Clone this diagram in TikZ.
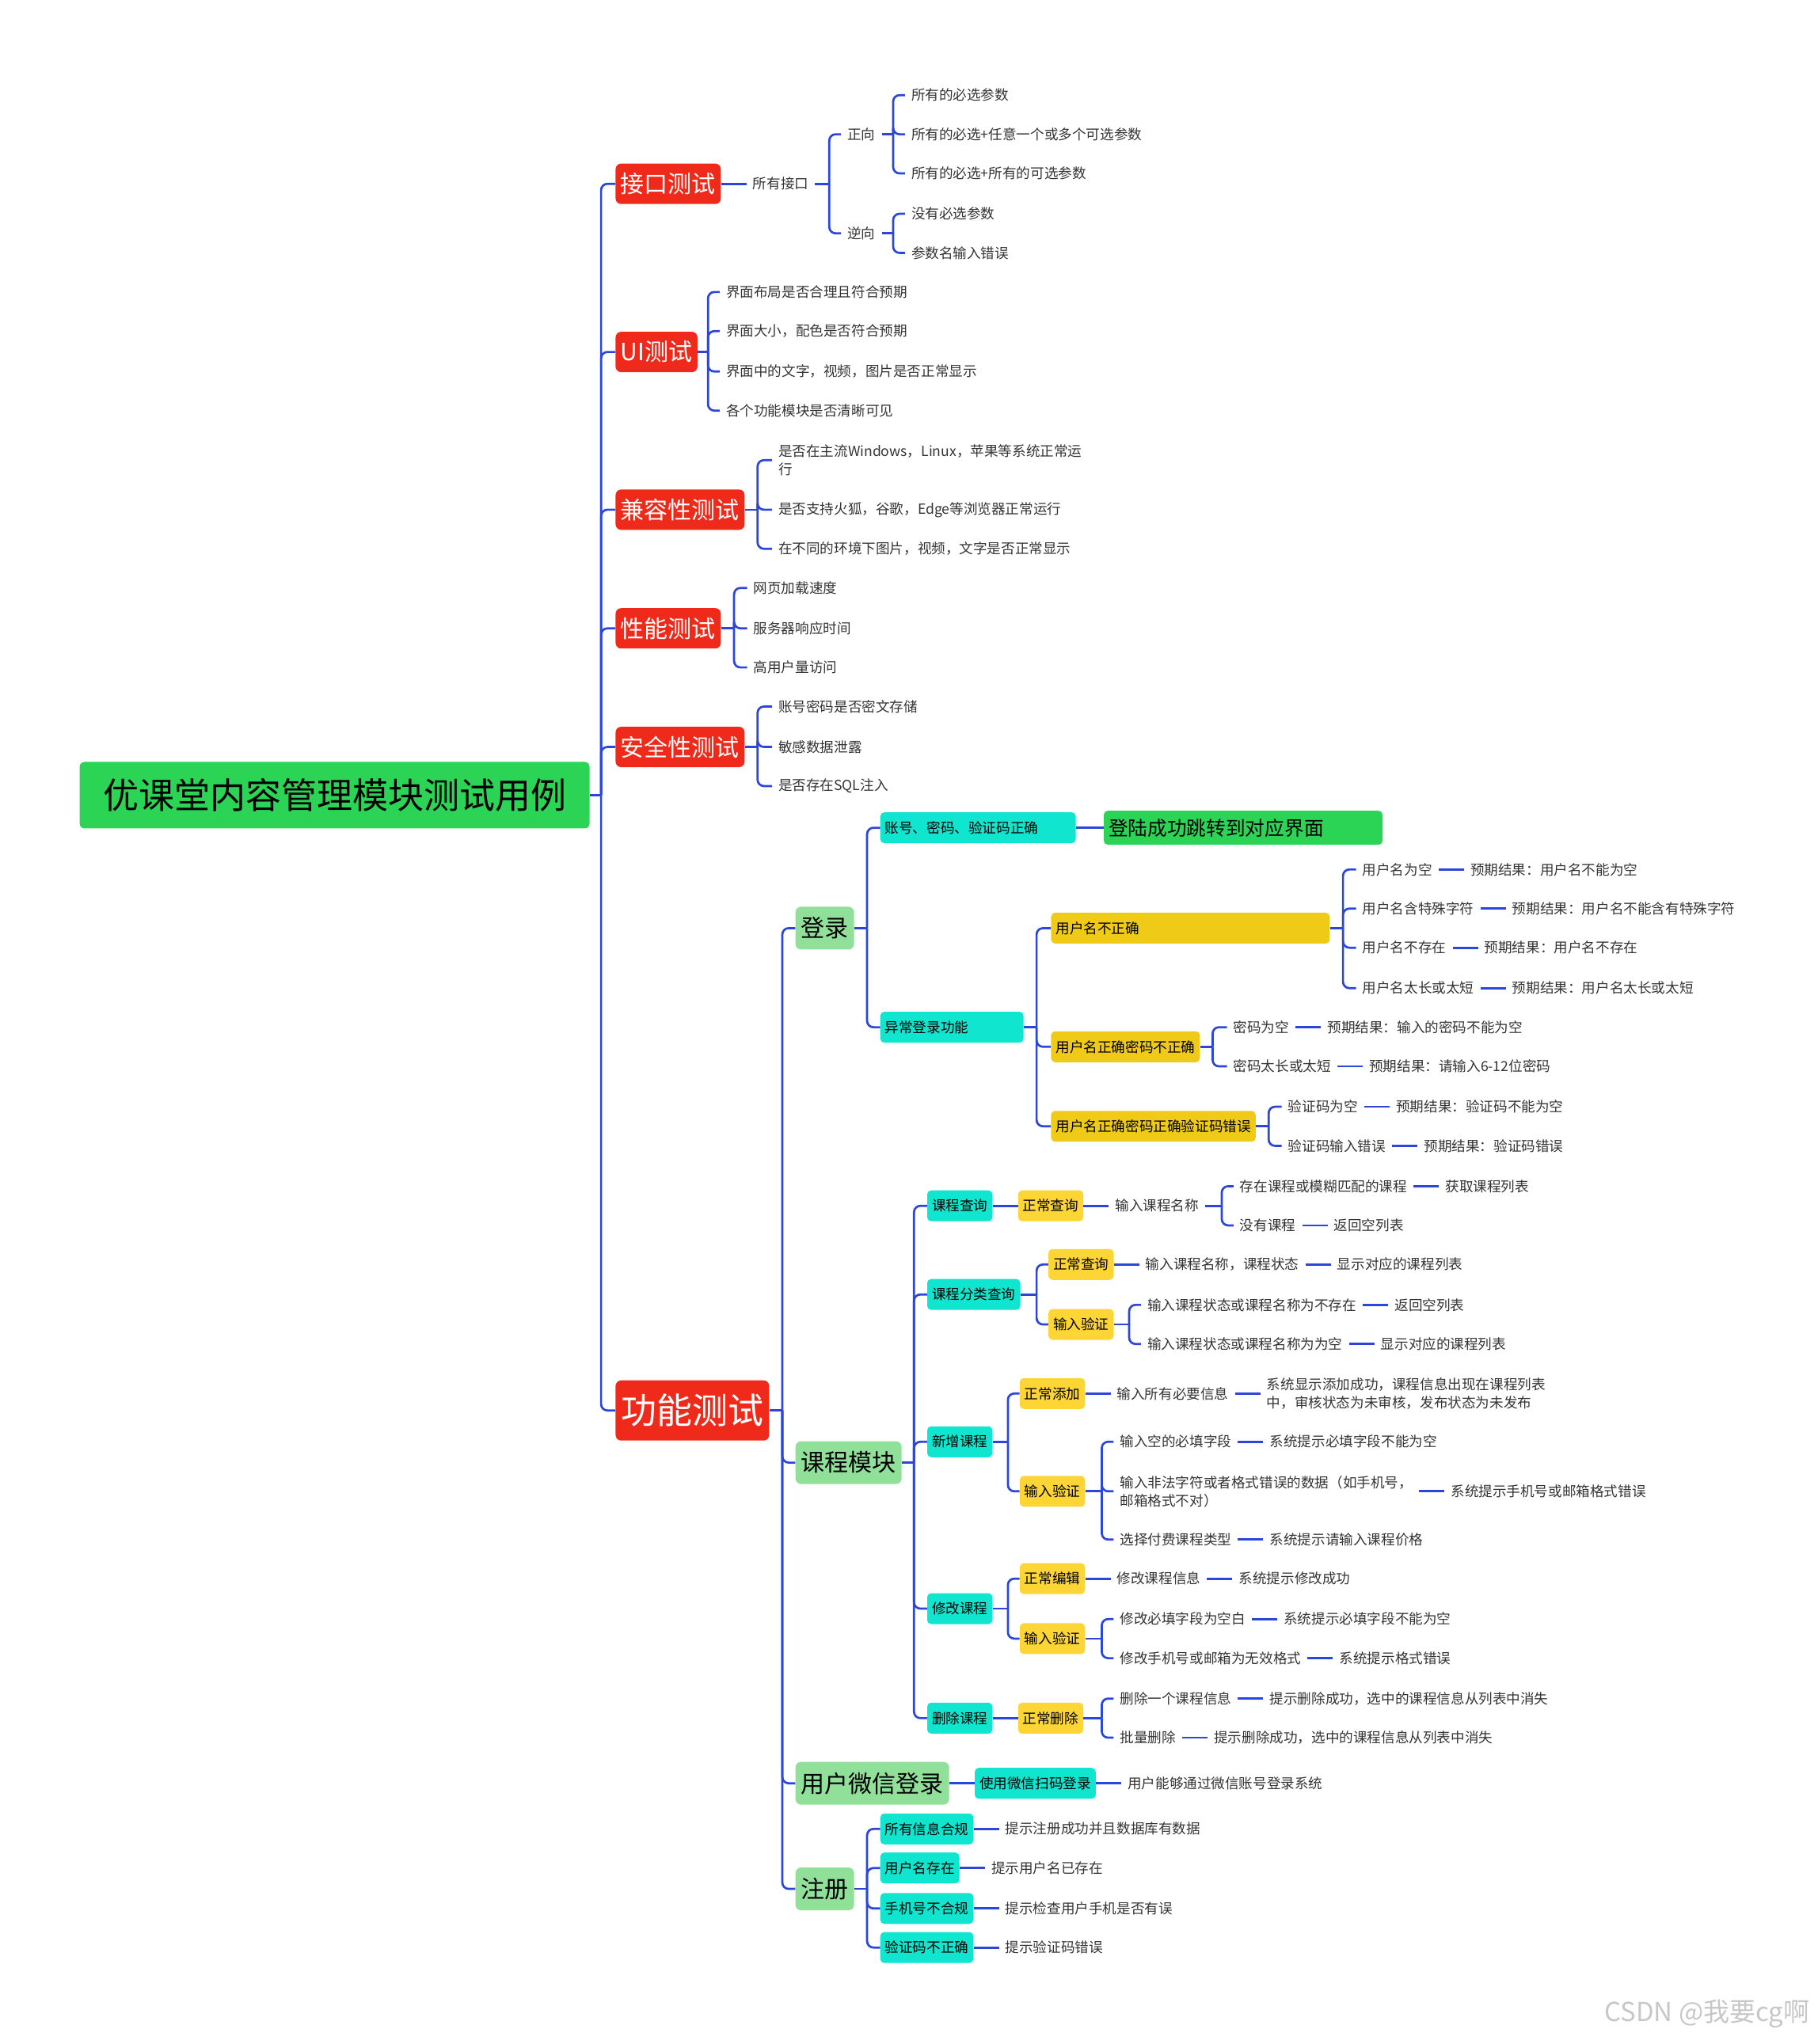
\documentclass[tikz,border=0pt]{standalone}
\usepackage{fontspec}
\setmainfont{Noto Sans CJK SC}
\usetikzlibrary{positioning}
\definecolor{mmred}{HTML}{F02A1A}
\definecolor{mmgreen}{HTML}{2CD455}
\definecolor{mmlgreen}{HTML}{90E09A}
\definecolor{mmcyan}{HTML}{10E6CF}
\definecolor{mmylwa}{HTML}{EFCB18}
\definecolor{mmylwb}{HTML}{FDD535}
\definecolor{mmblue}{HTML}{2B46DA}
\definecolor{mmtext}{HTML}{333333}

% bracket from a parent to its children
\newcommand\fork[3]{%
  \draw[link] (#1.east) -- (#1.east -| #2,0) coordinate (#1j);
  \foreach \kid in {#3}{\draw[link] (#1j) |- (\kid.west);}%
}

\begin{document}
\begin{tikzpicture}[x=1.647pt, y=-1.647pt,
  link/.style={draw=mmblue, line width=2.7pt, rounded corners=8pt},
  leaf/.style={anchor=west, inner xsep=8pt, inner ysep=2pt, align=left,
    text=mmtext, font=\fontsize{17.6}{23}\selectfont},
  box/.style={anchor=west, rounded corners=5pt, minimum height=39pt,
    inner xsep=6pt, inner ysep=2pt, align=left, text=black,
    font=\fontsize{17.6}{21}\selectfont},
  cyanbox/.style={box, fill=mmcyan},
  ylwa/.style={box, fill=mmylwa},
  ylwb/.style={box, fill=mmylwb},
  redbox/.style={anchor=west, rounded corners=7pt, fill=mmred, text=white,
    minimum height=51pt, inner xsep=6.5pt, inner ysep=2pt,
    font=\fontsize{30}{34}\selectfont},
  grnbox/.style={anchor=west, rounded corners=7pt, fill=mmlgreen, text=black,
    minimum height=54pt, inner xsep=7pt, inner ysep=2pt,
    font=\fontsize{30}{34}\selectfont},
]
\useasboundingbox (0,0) rectangle (1394,1568);

% Root and first level
\node[anchor=west, fill=mmgreen, rounded corners=6pt, minimum width=644pt,
  minimum height=84pt, font=\fontsize{45}{50}\selectfont] (root) at (61,610)
  {优课堂内容管理模块测试用例};
\node[redbox] (jk) at (472,141) {接口测试};
\node[redbox] (ui) at (472,270) {UI测试};
\node[redbox] (jr) at (472,391) {兼容性测试};
\node[redbox] (xn) at (472,482) {性能测试};
\node[redbox] (aq) at (472,573) {安全性测试};
\node[redbox, minimum height=76pt, inner xsep=7pt,
  font=\fontsize{45}{50}\selectfont] (gn) at (472,1082) {功能测试};
\fork{root}{461}{jk,ui,jr,xn,aq,gn}

% Interface tests
\node[leaf, right=32pt of jk] (syjk) {所有接口};
\draw[link] (jk) -- (syjk);
\node[leaf] (zx) at (645,103) {正向};
\node[leaf] (nx) at (645,179) {逆向};
\fork{syjk}{636}{zx,nx}
\foreach \n/\y/\t in {zx1/73/所有的必选参数, zx2/103/所有的必选+任意一个或多个可选参数,
  zx3/133/所有的必选+所有的可选参数, nx1/164/没有必选参数, nx2/194/参数名输入错误}
  \node[leaf] (\n) at (694,\y) {\t};
\fork{zx}{685}{zx1,zx2,zx3}
\fork{nx}{685}{nx1,nx2}

% UI tests
\foreach \n/\y/\t in {ui1/224/界面布局是否合理且符合预期, ui2/254/界面大小，配色是否符合预期,
  ui3/285/界面中的文字，视频，图片是否正常显示, ui4/315/各个功能模块是否清晰可见}
  \node[leaf] (\n) at (552,\y) {\t};
\fork{ui}{543}{ui1,ui2,ui3,ui4}

% Compatibility tests
\foreach \n/\y/\t in {jr1/353/是否在主流Windows，Linux，苹果等系统正常运\\行,
  jr2/391/是否支持火狐，谷歌，Edge等浏览器正常运行,
  jr3/421/在不同的环境下图片，视频，文字是否正常显示}
  \node[leaf] (\n) at (592,\y) {\t};
\fork{jr}{581}{jr1,jr2,jr3}

% Performance tests
\foreach \n/\y/\t in {xn1/451/网页加载速度, xn2/482/服务器响应时间, xn3/512/高用户量访问}
  \node[leaf] (\n) at (573,\y) {\t};
\fork{xn}{563}{xn1,xn2,xn3}

% Security tests
\foreach \n/\y/\t in {aq1/542/账号密码是否密文存储, aq2/573/敏感数据泄露, aq3/603/是否存在SQL注入}
  \node[leaf] (\n) at (592,\y) {\t};
\fork{aq}{581}{aq1,aq2,aq3}

% Functional tests
\node[grnbox] (dl) at (610,712) {登录};
\node[grnbox] (kc) at (610,1122) {课程模块};
\node[grnbox] (wx) at (610,1368) {用户微信登录};
\node[grnbox] (zc) at (610,1449) {注册};
\fork{gn}{600}{dl,kc,wx,zc}

% Login
\node[cyanbox, text width=235pt] (zq) at (675,635) {账号、密码、验证码正确};
\node[cyanbox, text width=169pt] (yc) at (675,788) {异常登录功能};
\fork{dl}{665}{zq,yc}
\node[box, fill=mmgreen, text width=340pt, minimum height=43pt,
  font=\fontsize{24.7}{28}\selectfont, right=35pt of zq] (cg) {登陆成功跳转到对应界面};
\draw[link] (zq) -- (cg);
\node[ylwa, text width=340pt] (e1) at (806,712) {用户名不正确};
\node[ylwa] (e2) at (806,803) {用户名正确密码不正确};
\node[ylwa] (e3) at (806,864) {用户名正确密码正确验证码错误};
\fork{yc}{795}{e1,e2,e3}
\foreach \n/\x/\y/\a/\b in {u1/1040/667/用户名为空/预期结果：用户名不能为空,
  u2/1040/697/用户名含特殊字符/预期结果：用户名不能含有特殊字符,
  u3/1040/727/用户名不存在/预期结果：用户名不存在,
  u4/1040/758/用户名太长或太短/预期结果：用户名太长或太短,
  p1/941/788/密码为空/预期结果：输入的密码不能为空,
  p2/941/818/密码太长或太短/预期结果：请输入6-12位密码,
  v1/983/849/验证码为空/预期结果：验证码不能为空,
  v2/983/879/验证码输入错误/预期结果：验证码错误}{
  \node[leaf] (\n) at (\x,\y) {\a};
  \node[leaf, right=32pt of \n] (\n-r) {\b};
  \draw[link] (\n) -- (\n-r);
}
\fork{e1}{1030}{u1,u2,u3,u4}
\fork{e2}{930}{p1,p2}
\fork{e3}{973}{v1,v2}

% Course module
\foreach \n/\y/\t in {q1/925/课程查询, q2/993/课程分类查询, q3/1106/新增课程,
  q4/1234/修改课程, q5/1318/删除课程}
  \node[cyanbox] (\n) at (711,\y) {\t};
\fork{kc}{701}{q1,q2,q3,q4,q5}

\node[ylwb, right=32pt of q1] (q1a) {正常查询};
\node[leaf, right=32pt of q1a] (q1b) {输入课程名称};
\draw[link] (q1) -- (q1a);
\draw[link] (q1a) -- (q1b);

\node[ylwb] (q2a) at (804,970) {正常查询};
\node[ylwb] (q2b) at (804,1016) {输入验证};
\fork{q2}{795}{q2a,q2b}
\node[leaf, right=32pt of q2a] (t0) {输入课程名称，课程状态};
\node[leaf, right=32pt of t0] (t0-r) {显示对应的课程列表};
\draw[link] (q2a) -- (t0);
\draw[link] (t0) -- (t0-r);

\node[ylwb] (q3a) at (782,1069) {正常添加};
\node[ylwb] (q3b) at (782,1144) {输入验证};
\fork{q3}{773}{q3a,q3b}
\node[leaf, right=32pt of q3a] (a1) {输入所有必要信息};
\node[leaf, right=32pt of a1] (a1-r) {系统显示添加成功，课程信息出现在课程列表\\中，审核状态为未审核，发布状态为未发布};
\draw[link] (q3a) -- (a1);
\draw[link] (a1) -- (a1-r);

\node[ylwb] (q4a) at (782,1211) {正常编辑};
\node[ylwb] (q4b) at (782,1257) {输入验证};
\fork{q4}{773}{q4a,q4b}
\node[leaf, right=32pt of q4a] (c0) {修改课程信息};
\node[leaf, right=32pt of c0] (c0-r) {系统提示修改成功};
\draw[link] (q4a) -- (c0);
\draw[link] (c0) -- (c0-r);

\node[ylwb, right=32pt of q5] (q5a) {正常删除};
\draw[link] (q5) -- (q5a);

\foreach \n/\x/\y/\a/\b in {s1/946/910/存在课程或模糊匹配的课程/获取课程列表,
  s2/946/940/没有课程/返回空列表,
  t1/875/1001/输入课程状态或课程名称为不存在/返回空列表,
  t2/875/1031/输入课程状态或课程名称为为空/显示对应的课程列表,
  b1/854/1106/输入空的必填字段/系统提示必填字段不能为空,
  b2/854/1144/输入非法字符或者格式错误的数据（如手机号，\\邮箱格式不对）/系统提示手机号或邮箱格式错误,
  b3/854/1181/选择付费课程类型/系统提示请输入课程价格,
  c1/854/1242/修改必填字段为空白/系统提示必填字段不能为空,
  c2/854/1272/修改手机号或邮箱为无效格式/系统提示格式错误,
  d1/854/1303/删除一个课程信息/提示删除成功，选中的课程信息从列表中消失,
  d2/854/1333/批量删除/提示删除成功，选中的课程信息从列表中消失}{
  \node[leaf] (\n) at (\x,\y) {\a};
  \node[leaf, right=32pt of \n] (\n-r) {\b};
  \draw[link] (\n) -- (\n-r);
}
\fork{q1b}{937}{s1,s2}
\fork{q2b}{866}{t1,t2}
\fork{q3b}{845}{b1,b2,b3}
\fork{q4b}{845}{c1,c2}
\fork{q5a}{845}{d1,d2}

% WeChat login
\node[cyanbox, right=32pt of wx] (wxa) {使用微信扫码登录};
\node[leaf, right=32pt of wxa] (wxb) {用户能够通过微信账号登录系统};
\draw[link] (wx) -- (wxa);
\draw[link] (wxa) -- (wxb);

% Register
\foreach \n/\y/\a/\b in {r1/1403/所有信息合规/提示注册成功并且数据库有数据,
  r2/1433/用户名存在/提示用户名已存在,
  r3/1464/手机号不合规/提示检查用户手机是否有误,
  r4/1494/验证码不正确/提示验证码错误}{
  \node[cyanbox] (\n) at (675,\y) {\a};
  \node[leaf, right=32pt of \n] (\n-r) {\b};
  \draw[link] (\n) -- (\n-r);
}
\fork{zc}{665}{r1,r2,r3,r4}

% Watermark
\node[anchor=east, text=black!22, font=\fontsize{33}{36}\selectfont] (wm)
  at (1390,1545) {CSDN @我要cg啊};
\end{tikzpicture}
\end{document}
